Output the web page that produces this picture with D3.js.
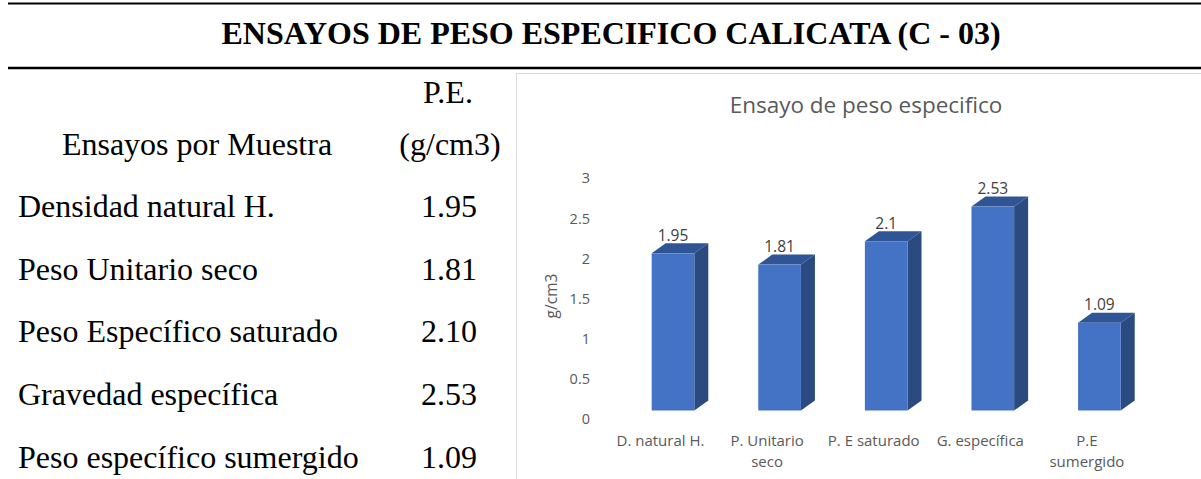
<!DOCTYPE html>
<html>
<head>
<meta charset="utf-8">
<script src="https://cdn.jsdelivr.net/npm/d3@7"></script>
<style>
  html, body { margin: 0; padding: 0; background: #fff; }
  svg { display: block; }
</style>
</head>
<body>
<svg id="page" width="1201" height="479"></svg>
<script>
// Test names (table) and their short chart labels
const testNames = [
  "Densidad natural H.",
  "Peso Unitario seco",
  "Peso Específico saturado",
  "Gravedad específica",
  "Peso específico sumergido"
];
const categories = [
  ["D. natural H."],
  ["P. Unitario", "seco"],
  ["P. E saturado"],
  ["G. específica"],
  ["P.E", "sumergido"]
];
const peValues = [1.95, 1.81, 2.10, 2.53, 1.09];
const yTicks = [0, 0.5, 1, 1.5, 2, 2.5, 3];

const pageTitle = "ENSAYOS DE PESO ESPECIFICO CALICATA (C - 03)";
const chartTitle = "Ensayo de peso especifico";
const yAxisTitle = "g/cm3";

const svg = d3.select("#page");
const serif = "'Liberation Serif', 'Times New Roman', serif";
const sans = "'Open Sans', 'Noto Sans', sans-serif";

// ---- heading with rules ----
svg.append("line").attr("x1", 8).attr("x2", 1201).attr("y1", 3.5).attr("y2", 3.5)
  .attr("stroke", "#000").attr("stroke-width", 2.2);
svg.append("line").attr("x1", 8).attr("x2", 1201).attr("y1", 68).attr("y2", 68)
  .attr("stroke", "#000").attr("stroke-width", 2.4);
svg.append("text").attr("x", 611).attr("y", 44).attr("text-anchor", "middle")
  .attr("font-family", serif).attr("font-weight", "bold").attr("font-size", 32)
  .attr("fill", "#000").text(pageTitle);

// ---- table on the left ----
const table = svg.append("g").attr("font-family", serif).attr("font-size", 32).attr("fill", "#000");
table.append("text").attr("x", 448).attr("y", 103).attr("text-anchor", "middle").text("P.E.");
table.append("text").attr("x", 197).attr("y", 155).attr("text-anchor", "middle").text("Ensayos por Muestra");
table.append("text").attr("x", 450).attr("y", 155).attr("text-anchor", "middle").text("(g/cm3)");
const rowY = d3.scaleLinear().domain([0, 4]).range([217, 467.5]);
const fmt2 = d3.format(".2f");
testNames.forEach((name, i) => {
  table.append("text").attr("x", 18).attr("y", rowY(i)).text(name);
  table.append("text").attr("x", 449).attr("y", rowY(i)).attr("text-anchor", "middle").text(fmt2(peValues[i]));
});

// ---- chart frame ----
svg.append("rect").attr("x", 516.5).attr("y", 73.5).attr("width", 700).attr("height", 450)
  .attr("fill", "#fff").attr("stroke", "#d9d9d9").attr("stroke-width", 1);

svg.append("text").attr("x", 866).attr("y", 113).attr("text-anchor", "middle")
  .attr("font-family", sans).attr("font-size", 22.5).attr("fill", "#595959").text(chartTitle);

// ---- scales ----
const x = d3.scaleBand().domain(d3.range(categories.length))
  .range([619.7, 1152.7]).paddingInner(0.6).paddingOuter(0.3);
const y = d3.scaleLinear().domain([0, 3]).range([410.5, 168.7]);       // front face
const yWall = d3.scaleLinear().domain([0, 3]).range([419, 178.3]);     // back wall (tick labels)
const dx = 14, dy = 10;   // column depth

// y tick labels
const yAxis = d3.axisLeft(yWall).tickValues(yTicks).tickSize(0).tickPadding(0)
  .tickFormat(d3.format("~g"));
const gy = svg.append("g").attr("transform", "translate(590,0)").call(yAxis);
gy.select(".domain").remove();
gy.selectAll("text").attr("font-family", sans).attr("font-size", 14.5).attr("fill", "#595959");

svg.append("text").attr("transform", "translate(557,296) rotate(-90)").attr("text-anchor", "middle")
  .attr("font-family", sans).attr("font-size", 15.5).attr("fill", "#595959").text(yAxisTitle);

// ---- 3D columns ----
const bw = x.bandwidth();
const bars = svg.append("g").selectAll("g").data(peValues).join("g");
bars.append("path").attr("fill", "#2b4a80").attr("d", (v, i) => {
  const x1 = x(i) + bw, yt = y(v), yb = y(0);
  return `M${x1},${yt}L${x1 + dx},${yt - dy}L${x1 + dx},${yb - dy}L${x1},${yb}Z`;
});
bars.append("path").attr("fill", "#2f5597").attr("d", (v, i) => {
  const x0 = x(i), x1 = x0 + bw, yt = y(v);
  return `M${x0},${yt}L${x0 + dx},${yt - dy}L${x1 + dx},${yt - dy}L${x1},${yt}Z`;
});
bars.append("rect").attr("fill", "#4472c4")
  .attr("x", (v, i) => x(i)).attr("width", bw)
  .attr("y", v => y(v)).attr("height", v => y(0) - y(v));

// value labels
bars.append("text").attr("text-anchor", "middle")
  .attr("x", (v, i) => x(i) + bw / 2)
  .attr("y", v => y(v) - dy - 2.5)
  .attr("font-family", sans).attr("font-size", 15.5).attr("fill", "#404040")
  .text(v => String(v));

// category labels
const cat = svg.append("g").attr("font-family", sans).attr("font-size", 15).attr("fill", "#595959")
  .attr("text-anchor", "middle");
categories.forEach((lines, i) => {
  const cx = x(i) + bw / 2 - 12.5;
  const t = cat.append("text").attr("x", cx).attr("y", 446);
  lines.forEach((ln, k) => t.append("tspan").attr("x", cx).attr("dy", k ? 21 : 0).text(ln));
});
</script>
</body>
</html>
